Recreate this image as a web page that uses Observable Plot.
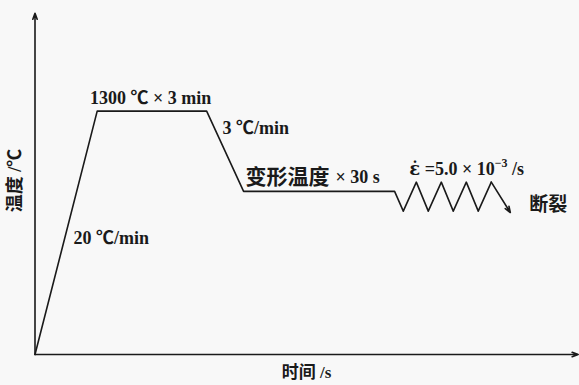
<!DOCTYPE html>
<html><head><meta charset="utf-8">
<script src="https://cdn.jsdelivr.net/npm/d3@7"></script>
<script src="https://cdn.jsdelivr.net/npm/@observablehq/plot@0.6"></script>
<style>
html,body{margin:0;padding:0;background:#f8f8f8;}
#chart svg{display:block;background:#f8f8f8;}
</style></head><body><div id="chart"></div>
<script>
// Schematic process: time (arbitrary units) vs temperature (arbitrary units)
const time = [0, 11.45, 31.6, 38.4, 66.2, 67.8, 70.2, 72.4, 74.8, 77.0, 79.4, 81.6, 84.0];
const temp = [0, 71.3, 71.3, 47.8, 47.8, 42.0, 50.5, 42.0, 50.5, 42.0, 50.5, 42.0, 50.5];
const fractureTime = 87.5;
const fractureTemp = 41.6;

// Latin/serif annotations
const labelTexts = ["1300 ℃ × 3 min", "3 ℃/min", "× 30 s", "ε̇ =5.0 × 10⁻³ /s", "20 ℃/min"];
const labelTime  = [21.3, 34.5, 55.3, 68.9, 7.1];
const labelTemp  = [75.1, 66.2, 51.9, 54.2, 34.0];
const labelAnchor = ["middle", "start", "start", "start", "start"];
// CJK annotations
const cjkTexts = ["变形温度", "断裂"];
const cjkTime  = [38.75, 91.0];
const cjkTemp  = [51.9, 43.7];
const cjkSize  = [21, 19];

const xTitle = "时间 /s";
const yTitle = "温度 /℃";

const path = time.map((t, i) => ({t, T: temp[i]}));
const lastSeg = [{t1: time[time.length - 1], T1: temp[temp.length - 1], t2: fractureTime, T2: fractureTemp}];
const labels = labelTexts.map((text, i) => ({text, t: labelTime[i], T: labelTemp[i], anchor: labelAnchor[i]}));
const cjk = cjkTexts.map((text, i) => ({text, t: cjkTime[i], T: cjkTemp[i], size: cjkSize[i]}));
const axesArrows = [{x1: 0, y1: 0, x2: 100, y2: 0}, {x1: 0, y1: 0, x2: 0, y2: 100}];

const font = "'Liberation Serif', 'Noto Sans CJK SC', serif";
const ink = "#1a1a1a";
const textOpts = {x: "t", y: "T", text: "text", fontSize: 18, fontWeight: "bold", fontFamily: font, fill: ink};

const chart = Plot.plot({
  width: 579, height: 385,
  marginLeft: 34.5, marginRight: 1.3, marginTop: 12.7, marginBottom: 31,
  x: {domain: [0, 100], axis: null},
  y: {domain: [0, 100], axis: null},
  style: {background: "#f8f8f8", overflow: "visible"},
  marks: [
    Plot.arrow(axesArrows, {x1: "x1", y1: "y1", x2: "x2", y2: "y2", stroke: ink, strokeWidth: 1.6, headLength: 6, headAngle: 40}),
    Plot.line(path, {x: "t", y: "T", stroke: ink, strokeWidth: 1.6, curve: "linear"}),
    Plot.arrow(lastSeg, {x1: "t1", y1: "T1", x2: "t2", y2: "T2", stroke: ink, strokeWidth: 1.6, headLength: 6, headAngle: 40}),
    Plot.text(labels, {...textOpts, filter: d => d.anchor === "middle", textAnchor: "middle"}),
    Plot.text(labels, {...textOpts, filter: d => d.anchor === "start", textAnchor: "start"}),
    Plot.text(cjk, {...textOpts, filter: d => d.size === 21, fontSize: 21, textAnchor: "start"}),
    Plot.text(cjk, {...textOpts, filter: d => d.size === 19, fontSize: 19, textAnchor: "start"}),
    Plot.text([xTitle], {x: 50, y: 0, text: d => d, dy: 18, fontSize: 17, fontWeight: "bold", fontFamily: font, fill: ink}),
    Plot.text([yTitle], {x: 0, y: 51, text: d => d, dx: -20, rotate: -90, fontSize: 18, fontWeight: "bold", fontFamily: font, fill: ink})
  ]
});
document.getElementById("chart").appendChild(chart);

// Typeset the strain-rate label: dotted epsilon and superscript exponent
d3.select(chart).selectAll("text").each(function() {
  const el = d3.select(this);
  if (el.text() === "ε̇ =5.0 × 10⁻³ /s") {
    el.text(null);
    el.append("tspan").style("font-family", "'DejaVu Serif'").style("font-weight", "bold").text("ε̇");
    el.append("tspan").text(" =5.0 × 10");
    el.append("tspan").attr("dy", -8).style("font-size", "12px").text("−3");
    el.append("tspan").attr("dy", 8).text(" /s");
  }
});
</script></body></html>
